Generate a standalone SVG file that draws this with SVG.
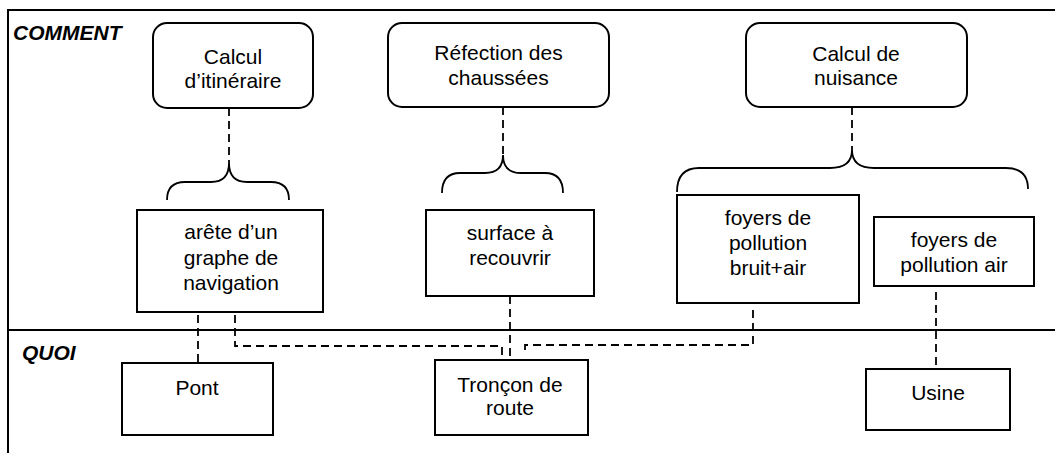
<svg xmlns="http://www.w3.org/2000/svg" width="1055" height="453" viewBox="0 0 1055 453">
<style>
.frame{fill:none;stroke:#000;stroke-width:2}
.box{fill:#fff;stroke:#000;stroke-width:2}
.brace{fill:none;stroke:#000;stroke-width:1.8}
.dash{fill:none;stroke:#000;stroke-width:1.8;stroke-dasharray:8 5}
text{font-family:"Liberation Sans",Arial,sans-serif;font-size:21px;fill:#000}
.c{text-anchor:middle}
.lbl{font-weight:bold;font-style:italic}
</style>
<rect width="1055" height="453" fill="#fff"/>
<g id="frame">
<path class="frame" d="M8,453 V10 H1055"/>
<path class="frame" d="M8,330 H1055"/>
<text class="lbl" x="13" y="40">COMMENT</text>
<text class="lbl" x="22" y="360">QUOI</text>
</g>
<g id="connectors">
<path class="dash" d="M229,108 V163"/>
<path class="dash" d="M503,107 V155"/>
<path class="dash" d="M852,107 V150"/>
<path class="brace" d="M167,200 Q167,182 185,182 L211,182 Q229,182 229,163 Q229,182 247,182 L271,182 Q289,182 289,200"/>
<path class="brace" d="M442,193 Q442,173 460,173 L485,173 Q503,173 503,155 Q503,173 521,173 L545,173 Q563,173 563,193"/>
<path class="brace" d="M677,192 Q677,168 699,168 L830,168 Q852,168 852,150 Q852,168 874,168 L1006,168 Q1028,168 1028,189"/>
<path class="dash" d="M198,315 V363"/>
<path class="dash" d="M235,315 V346 H502 V358"/>
<path class="dash" d="M510,296 V358"/>
<path class="dash" d="M753,310 V345 H525 V355"/>
<path class="dash" d="M936,292 V368"/>
</g>
<g id="calcul-itineraire">
<rect class="box" x="153" y="23" width="160" height="85" rx="14"/>
<text class="c" x="233" y="64">Calcul</text>
<text class="c" x="233" y="88">d’itinéraire</text>
</g>
<g id="refection">
<rect class="box" x="388" y="23" width="221" height="84" rx="14"/>
<text class="c" x="498.5" y="60">Réfection des</text>
<text class="c" x="498.5" y="85">chaussées</text>
</g>
<g id="calcul-nuisance">
<rect class="box" x="746" y="23" width="221" height="84" rx="14"/>
<text class="c" x="856" y="61">Calcul de</text>
<text class="c" x="856" y="85">nuisance</text>
</g>
<g id="arete">
<rect class="box" x="137" y="210" width="186" height="102"/>
<text class="c" x="231" y="239">arête d’un</text>
<text class="c" x="231" y="264.5">graphe de</text>
<text class="c" x="231" y="290">navigation</text>
</g>
<g id="surface">
<rect class="box" x="426" y="210" width="168" height="86"/>
<text class="c" x="510" y="240">surface à</text>
<text class="c" x="510" y="265">recouvrir</text>
</g>
<g id="foyers-bruit-air">
<rect class="box" x="677" y="195" width="182" height="108"/>
<text class="c" x="768" y="225">foyers de</text>
<text class="c" x="768" y="250">pollution</text>
<text class="c" x="768" y="274.5">bruit+air</text>
</g>
<g id="foyers-air">
<rect class="box" x="874" y="217" width="160" height="69"/>
<text class="c" x="954" y="247">foyers de</text>
<text class="c" x="954" y="272">pollution air</text>
</g>
<g id="pont">
<rect class="box" x="122" y="363" width="151" height="72"/>
<text class="c" x="197" y="394.5">Pont</text>
</g>
<g id="troncon">
<rect class="box" x="435" y="360" width="153" height="75"/>
<text class="c" x="510" y="392">Tronçon de</text>
<text class="c" x="510" y="415">route</text>
</g>
<g id="usine">
<rect class="box" x="866" y="369" width="144" height="61"/>
<text class="c" x="938" y="399.5">Usine</text>
</g>
</svg>
